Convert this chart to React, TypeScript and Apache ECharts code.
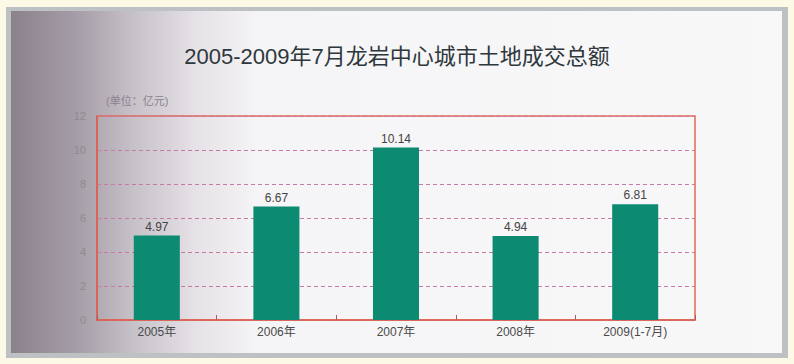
import React, { useEffect, useRef } from "react";
import * as echarts from "echarts";

const titleText = "2005-2009年7月龙岩中心城市土地成交总额";
const unitText = "(单位：亿元)";
const categories = ["2005年", "2006年", "2007年", "2008年", "2009(1-7月)"];
const values = [4.97, 6.67, 10.14, 4.94, 6.81];
const yMin = 0;
const yMax = 12;
const yStep = 2;

const FONT = '"Liberation Sans", Arial, "Noto Sans CJK SC", sans-serif';

export default function App() {
  const ref = useRef<HTMLDivElement>(null);
  useEffect(() => {
    if (!ref.current) return;
    const chart = echarts.init(ref.current, null, { renderer: "svg" });
    chart.setOption({
      animation: false,
      backgroundColor: "#fcf9e6",
      textStyle: { fontFamily: FONT },
      title: {
        text: titleText,
        left: "center",
        top: 40,
        textStyle: { fontSize: 22, fontWeight: "normal", color: "#2e383c", fontFamily: FONT },
      },
      graphic: [
        {
          type: "rect",
          z: -100,
          silent: true,
          shape: { x: 6, y: 7, width: 782, height: 351 },
          style: { fill: "#bdc1c3" },
        },
        {
          type: "rect",
          z: -99,
          silent: true,
          shape: { x: 11, y: 11, width: 771, height: 342 },
          style: {
            fill: new echarts.graphic.LinearGradient(0, 0, 1, 0, [
              { offset: 0, color: "#8a818b" },
              { offset: 0.08, color: "#a39ba5" },
              { offset: 0.16, color: "#c7c1c8" },
              { offset: 0.24, color: "#e6e2e7" },
              { offset: 0.32, color: "#f5f4f6" },
              { offset: 1, color: "#f8f8f9" },
            ]),
          },
        },
        {
          type: "text",
          z: 10,
          left: 106,
          top: 95,
          style: { text: unitText, fontSize: 11, fill: "#8a8290", fontFamily: FONT },
        },
      ],
      grid: {
        left: 97,
        top: 116,
        right: 99,
        bottom: 44,
        show: true,
        borderColor: "#df6a55",
        borderWidth: 1.5,
        backgroundColor: "transparent",
      },
      xAxis: {
        type: "category",
        data: categories,
        axisLine: { lineStyle: { color: "#dd5f4c", width: 1.5 } },
        axisTick: { show: true, inside: true, length: 5, lineStyle: { color: "#b05a5a" } },
        axisLabel: { color: "#4a4a4a", fontSize: 12, margin: 6, fontFamily: FONT },
      },
      yAxis: {
        type: "value",
        min: yMin,
        max: yMax,
        interval: yStep,
        axisLine: { show: true, lineStyle: { color: "#dd5f4c", width: 1.5 } },
        axisTick: { show: false },
        axisLabel: { color: "#8c8c8c", fontSize: 11, margin: 11, fontFamily: FONT },
        splitLine: {
          show: true,
          lineStyle: { color: "#c77aa6", type: [4, 3], width: 1 },
        },
      },
      series: [
        {
          type: "bar",
          data: values,
          barWidth: "38.5%",
          itemStyle: { color: "#0c8a72" },
          label: {
            show: true,
            position: "top",
            distance: 3,
            color: "#444",
            fontSize: 12,
            fontFamily: FONT,
          },
        },
      ],
    });
    return () => chart.dispose();
  }, []);
  return (
    <div style={{ position: "fixed", left: 0, top: 0, width: 794, height: 364 }}>
      <div ref={ref} style={{ width: 794, height: 364 }} />
    </div>
  );
}
